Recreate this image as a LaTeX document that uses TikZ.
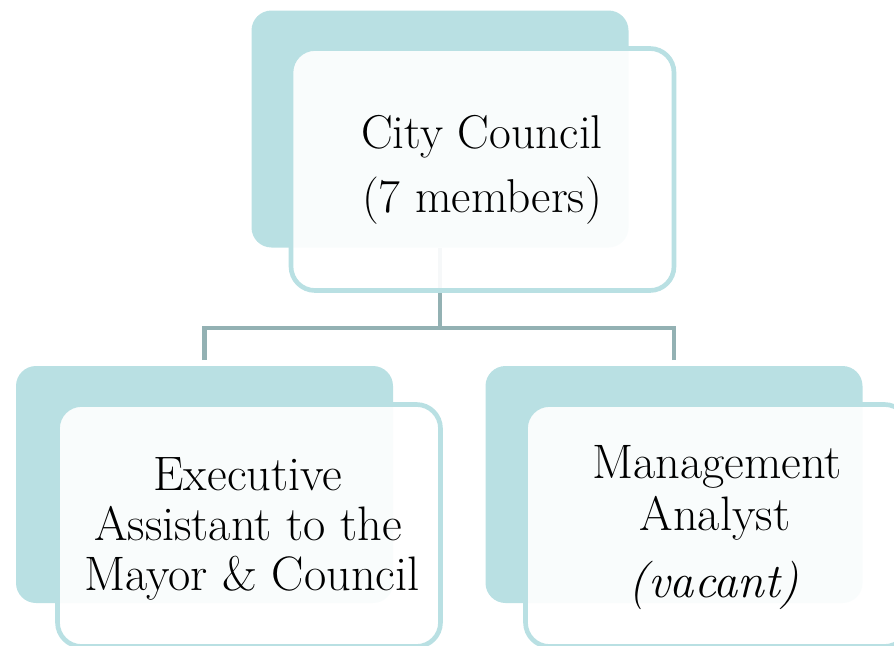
\documentclass[tikz,border=0pt]{standalone}
\usepackage{fontspec}
\definecolor{teal1}{HTML}{B9E0E3}
\definecolor{conncol}{HTML}{93B1B3}
\begin{document}
\begin{tikzpicture}[x=0.75pt,y=-0.75pt,
  backbox/.style={rectangle,rounded corners=15pt,fill=teal1,draw=none,
    minimum width=282.75pt,minimum height=177.75pt,inner sep=0pt,outer sep=0pt},
  frontbox/.style={rectangle,rounded corners=18pt,draw=teal1,line width=3.5pt,
    fill=white,fill opacity=0.92,minimum width=287.25pt,minimum height=181.5pt,
    inner sep=0pt,outer sep=0pt},
  conn/.style={draw=conncol,line width=3.6pt},
  txt/.style={anchor=base,inner sep=0pt,font=\fontsize{36.3}{44}\selectfont},
  toptxt/.style={anchor=base,inner sep=0pt,font=\fontsize{35.6}{44}\selectfont}]
\useasboundingbox (0,0) rectangle (894,646);
% back boxes
\node[backbox] (tb) at (440,129) {};
\node[backbox] (lb) at (204.5,484.5) {};
\node[backbox] (rb) at (674,484.5) {};
% connectors
\coordinate (j) at (440,328);
\draw[conn] (tb.south) -- (j);
\draw[conn] ([yshift=4.5pt]lb.north) |- (j);
\draw[conn] ([yshift=4.5pt]rb.north) |- (j);
% front boxes
\node[frontbox] (tf) at (482.5,169.5) {};
\node[frontbox] (lf) at (249,525.5) {};
\node[frontbox] (rf) at (717,525.5) {};
% texts
\node[toptxt] (t1) at (482,148) {City Council};
\node[toptxt] (t2) at (482,212) {(7 members)};
\node[txt] (l1) at (248,490) {Executive};
\node[txt] (l2) at (248,540) {Assistant to the};
\node[txt] (l3) at (252,590) {Mayor \& Council};
\node[txt] (r1) at (717,478) {Management};
\node[txt] (r2) at (715,530) {Analyst};
\node[txt] (r3) at (714,597) {\itshape(vacant)};
\end{tikzpicture}
\end{document}
